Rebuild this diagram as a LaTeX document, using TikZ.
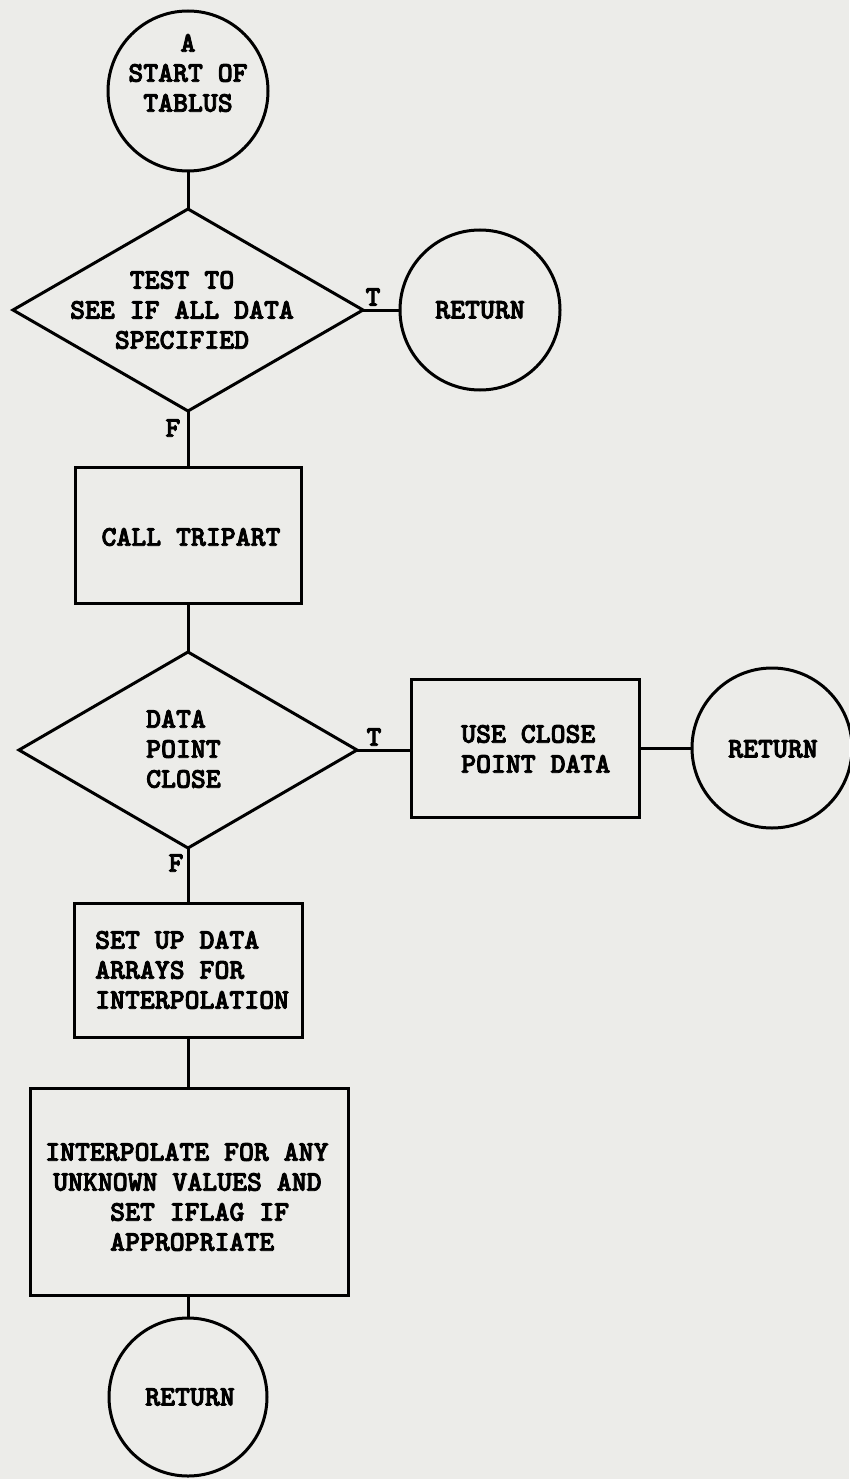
\documentclass[tikz,border=0pt]{standalone}
\usepackage{fontspec}
\newfontfamily\tw{lmmonolt10-bold.otf}[FakeBold=3]
\usetikzlibrary{shapes.geometric}
\definecolor{paper}{RGB}{236,236,233}
\begin{document}
\begin{tikzpicture}[x=1pt,y=-1pt,
  every node/.style={font=\tw\fontsize{28.4}{30}\selectfont, text=black},
  shapeline/.style={draw=black, line width=3pt, inner sep=0pt, outer sep=0pt},
  circ/.style={shapeline, circle, minimum size=160pt},
  dia/.style={shapeline, diamond},
  box/.style={shapeline, rectangle},
  txt/.style={inner sep=0pt},
  conn/.style={draw=black, line width=3pt}]
\fill[paper] (0,0) rectangle (849,1479);
\useasboundingbox (0,0) rectangle (849,1479);

% shapes
\node[circ] (A) at (188,91) {};
\node[dia, minimum width=350pt, minimum height=202pt] (D1) at (188,310) {};
\node[circ] (R1) at (480,310) {};
\node[box, minimum width=226pt, minimum height=136pt] (B1) at (188,535) {};
\node[dia, minimum width=338pt, minimum height=196pt] (D2) at (188,750) {};
\node[box, minimum width=228pt, minimum height=138pt] (B2) at (525,748) {};
\node[circ] (R2) at (772,748) {};
\node[box, minimum width=228pt, minimum height=134pt] (B3) at (188,970) {};
\node[box, minimum width=318pt, minimum height=207pt] (B4) at (189,1191.5) {};
\node[circ, minimum size=158pt] (R3) at (188,1397) {};

% texts
\node[txt, align=center] (tA) at (188,73) {A\\START OF\\TABLUS};
\node[txt, align=center] (tD1) at (182,310) {TEST TO\\SEE IF ALL DATA\\SPECIFIED};
\node[txt] (tR1) at (480,310) {RETURN};
\node[txt] (tB1) at (191,537) {CALL TRIPART};
\node[txt, align=left, anchor=west] (tD2) at (146,749) {DATA\\POINT\\CLOSE};
\node[txt, align=left, anchor=west] (tB2) at (461,749) {USE CLOSE\\POINT DATA};
\node[txt] (tR2) at (773,749) {RETURN};
\node[txt, align=left, anchor=west] (tB3) at (95,970) {SET UP DATA\\ARRAYS FOR\\INTERPOLATION};
\node[txt, align=left, anchor=west] (tB4) at (45,1197) {INTERPOLATE FOR ANY\\\hspace*{8pt}UNKNOWN VALUES AND\\\hspace*{65pt}SET IFLAG IF\\\hspace*{65pt}APPROPRIATE};
\node[txt] (tR3) at (190,1397) {RETURN};

% branch labels
\node[txt] (T1) at (373,297) {T};
\node[txt] (F1) at (173,428) {F};
\node[txt] (T2) at (374,737) {T};
\node[txt] (F2) at (176,863) {F};

% connectors
\draw[conn] (A) -- (D1.north);
\draw[conn] (D1.east) -- (R1);
\draw[conn] (D1.south) -- (B1.north);
\draw[conn] (B1.south) -- (D2.north);
\draw[conn] (D2.east) -- (B2.west |- D2.east);
\draw[conn] (B2.east) -- (R2);
\draw[conn] (D2.south) -- (B3.north);
\draw[conn] (B3.south) -- (B4.north -| B3.south);
\draw[conn] (B4.south -| R3.north) -- (R3);
\end{tikzpicture}
\end{document}
